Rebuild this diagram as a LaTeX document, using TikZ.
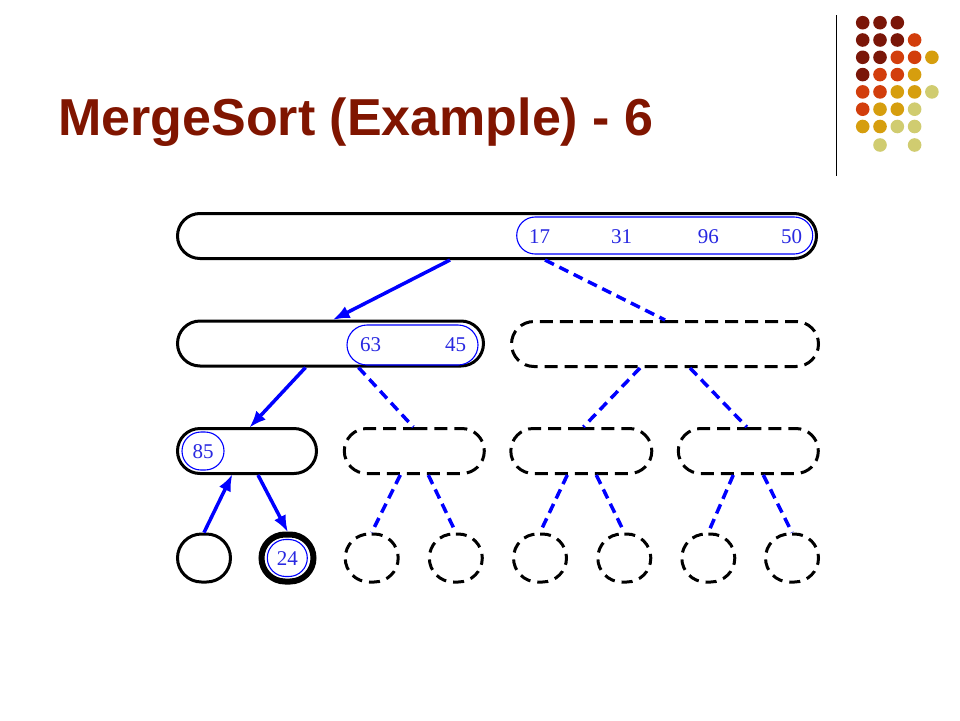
\documentclass[tikz,border=0pt]{standalone}
\usepackage{fontspec}
\setmainfont{Liberation Serif}
\newfontfamily\titlefont{Liberation Sans}
\usetikzlibrary{shapes.misc,arrows.meta}
\definecolor{titlered}{RGB}{128,21,0}
\definecolor{dotA}{RGB}{122,22,8}
\definecolor{dotB}{RGB}{210,62,12}
\definecolor{dotC}{RGB}{214,158,14}
\definecolor{dotD}{RGB}{208,204,112}
\definecolor{edgeblue}{RGB}{0,0,255}
\definecolor{numblue}{RGB}{40,40,225}
\tikzset{
  box/.style={rounded rectangle, draw=black, line width=3pt, inner sep=0pt, minimum height=45pt},
  dbox/.style={box, dash pattern=on 13pt off 7pt},
  leafbox/.style={rounded rectangle, draw=black, line width=3pt, inner sep=0pt, minimum width=53pt, minimum height=48pt},
  dleaf/.style={leafbox, dash pattern=on 11pt off 7pt},
  inbox/.style={rounded rectangle, draw=edgeblue, line width=1.1pt, inner sep=0pt, minimum height=37pt},
  num/.style={text=numblue, font=\fontsize{21}{25}\selectfont, inner sep=0pt},
  solidedge/.style={draw=edgeblue, line width=3.5pt, -{Latex[length=17pt,width=13pt]}, shorten >=-1pt},
  dashedge/.style={draw=edgeblue, line width=3.5pt, dash pattern=on 10pt off 6pt},
}
\begin{document}
\begin{tikzpicture}[x=1pt,y=-1pt]
\useasboundingbox (0,0) rectangle (960,720);
\fill[white] (0,0) rectangle (960,720);

% title
\node[anchor=base west, font=\titlefont\bfseries\fontsize{52}{60}\selectfont, text=titlered, inner sep=0pt] (title) at (58,135) {MergeSort (Example) - 6};

% decoration: vertical rule and dot grid
\draw[line width=1pt] (836.5,15) -- (836.5,176);
\foreach \c/\r/\col in {1/1/dotA,2/1/dotA,3/1/dotA,
  1/2/dotA,2/2/dotA,3/2/dotA,4/2/dotB,
  1/3/dotA,2/3/dotA,3/3/dotB,4/3/dotB,5/3/dotC,
  1/4/dotA,2/4/dotB,3/4/dotB,4/4/dotC,
  1/5/dotB,2/5/dotB,3/5/dotC,4/5/dotC,5/5/dotD,
  1/6/dotB,2/6/dotC,3/6/dotC,4/6/dotD,
  1/7/dotC,2/7/dotC,3/7/dotD,4/7/dotD,
  2/8/dotD,4/8/dotD}
  \fill[\col] ({845.4+17.3*\c},{5.4+17.3*\r+(\r==8?1.2:0)}) circle (6.8pt);

% level 1
\node[box, minimum width=639pt] (root) at (497,236) {};
\node[inbox, minimum width=296pt] (rin) at (664.7,235.5) {};
\node[num] (n17) at (539.5,237) {17};
\node[num] (n31) at (621.7,237) {31};
\node[num] (n96) at (708.3,237) {96};
\node[num] (n50) at (791.7,237) {50};

% level 2
\node[box, minimum width=306pt] (l2l) at (330.5,343.5) {};
\node[inbox, minimum width=131pt, minimum height=40pt] (l2lin) at (412.5,345) {};
\node[num] (n63) at (370.5,345) {63};
\node[num] (n45) at (455.7,345) {45};
\node[dbox, minimum width=307pt] (l2r) at (665,344) {};

% level 3
\node[box, minimum width=139pt] (l3a) at (247,451) {};
\node[inbox, minimum width=42pt, minimum height=38pt] (l3ain) at (203,451) {};
\node[num] (n85) at (203,452) {85};
\node[dbox, minimum width=140pt] (l3b) at (414.3,451) {};
\node[dbox, minimum width=141pt] (l3c) at (581.3,451) {};
\node[dbox, minimum width=140pt] (l3d) at (748.3,451) {};

% level 4
\node[leafbox] (la) at (204,558) {};
\node[leafbox, line width=6pt, minimum width=52pt, minimum height=47pt] (lb) at (287.5,558) {};
\node[inbox, minimum width=40pt, minimum height=37pt] (lbin) at (287.3,558) {};
\node[num] (n24) at (287.3,559) {24};
\node[dleaf] (lc) at (371.7,558) {};
\node[dleaf] (ld) at (455.8,558) {};
\node[dleaf] (le) at (540,558) {};
\node[dleaf] (lf) at (624.3,558) {};
\node[dleaf] (lg) at (708.3,558) {};
\node[dleaf] (lh) at (792,558) {};

% edges
\draw[solidedge] ([xshift=-47pt]root.south) -- ([xshift=3pt]l2l.north);
\draw[dashedge] ([xshift=48pt]root.south) -- (l2r.north);
\draw[solidedge] ([xshift=-25pt]l2l.south) -- ([xshift=3pt]l3a.north);
\draw[dashedge] ([xshift=28pt]l2l.south) -- ([xshift=-1pt]l3b.north);
\draw[dashedge] ([xshift=-25pt]l2r.south) -- ([xshift=2pt]l3c.north);
\draw[dashedge] ([xshift=25pt]l2r.south) -- ([xshift=-1.5pt]l3d.north);
\draw[solidedge] (la.north) -- ([xshift=-15pt]l3a.south);
\draw[solidedge] ([xshift=11pt]l3a.south) -- (lb.north);
\draw[dashedge] ([xshift=-14pt]l3b.south) -- (lc.north);
\draw[dashedge] ([xshift=14pt]l3b.south) -- (ld.north);
\draw[dashedge] ([xshift=-14pt]l3c.south) -- (le.north);
\draw[dashedge] ([xshift=15pt]l3c.south) -- (lf.north);
\draw[dashedge] ([xshift=-15pt]l3d.south) -- (lg.north);
\draw[dashedge] ([xshift=15pt]l3d.south) -- (lh.north);
\end{tikzpicture}
\end{document}
